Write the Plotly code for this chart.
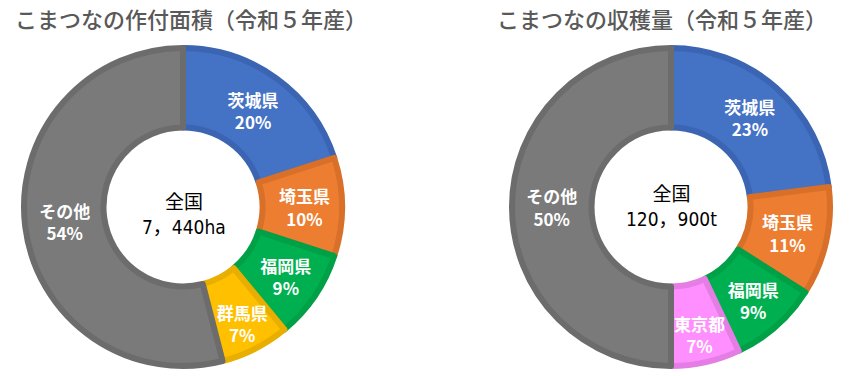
import plotly.graph_objects as go

# Left chart: planted area share
area_labels = ["茨城県", "埼玉県", "福岡県", "群馬県", "その他"]
area_values = [20, 10, 9, 7, 54]
area_colors = ["#4472C4", "#ED7D31", "#00B050", "#FFC000", "#7A7A7A"]
area_borders = ["#3B65B3", "#D8702A", "#00A146", "#E8AE00", "#6C6C6C"]
area_title = "こまつなの作付面積（令和５年産）"
area_center = "全国<br>7，440ha"

# Right chart: harvest share
harv_labels = ["茨城県", "埼玉県", "福岡県", "東京都", "その他"]
harv_values = [23, 11, 9, 7, 50]
harv_colors = ["#4472C4", "#ED7D31", "#00B050", "#FF8FFF", "#7A7A7A"]
harv_borders = ["#3B65B3", "#D8702A", "#00A146", "#E47DE4", "#6C6C6C"]
harv_title = "こまつなの収穫量（令和５年産）"
harv_center = "全国<br>120，900t"

W, H = 858, 376
FONT = "Noto Sans CJK JP"
NARROW = "Liberation Sans Narrow, DejaVu Sans Condensed, Noto Sans CJK JP"

def dom(cx, cy, r):
    return dict(x=[(cx - r) / W, (cx + r) / W], y=[(H - cy - r) / H, (H - cy + r) / H])

fig = go.Figure()
for labels, values, colors, borders, d in [
    (area_labels, area_values, area_colors, area_borders, dom(183, 207, 159)),
    (harv_labels, harv_values, harv_colors, harv_borders, dom(671, 207, 159)),
]:
    fig.add_trace(go.Pie(
        labels=labels, values=values, hole=0.5, sort=False, direction="clockwise",
        rotation=0, domain=d,
        marker=dict(colors=colors, line=dict(color=borders, width=6)),
        texttemplate="%{label}<br>%{value}%", textposition="inside",
        insidetextorientation="horizontal",
        insidetextfont=dict(color="white", size=17, family=FONT, weight="bold"),
        showlegend=False, hoverinfo="label+percent",
    ))

fig.add_annotation(x=191 / W, y=1 - 18 / H, xref="paper", yref="paper", text=area_title,
                   showarrow=False, font=dict(size=22, color="#595959", family=FONT, weight=500),
                   xanchor="center", yanchor="middle")
fig.add_annotation(x=662 / W, y=1 - 18 / H, xref="paper", yref="paper", text=harv_title,
                   showarrow=False, font=dict(size=22, color="#595959", family=FONT, weight=500),
                   xanchor="center", yanchor="middle")
fig.add_annotation(x=184 / W, y=1 - 214 / H, xref="paper", yref="paper", text=area_center,
                   showarrow=False, font=dict(size=19, color="black", family=NARROW),
                   xanchor="center", yanchor="middle")
fig.add_annotation(x=671 / W, y=1 - 207 / H, xref="paper", yref="paper", text=harv_center,
                   showarrow=False, font=dict(size=19, color="black", family=NARROW),
                   xanchor="center", yanchor="middle")

fig.update_layout(width=W, height=H, margin=dict(l=0, r=0, t=0, b=0),
                  paper_bgcolor="white", plot_bgcolor="white",
                  uniformtext=dict(minsize=17, mode="show"))
fig.write_html("out.html", config={"displayModeBar": False},
               post_script="document.body.style.margin='0';document.body.style.overflow='hidden';")
